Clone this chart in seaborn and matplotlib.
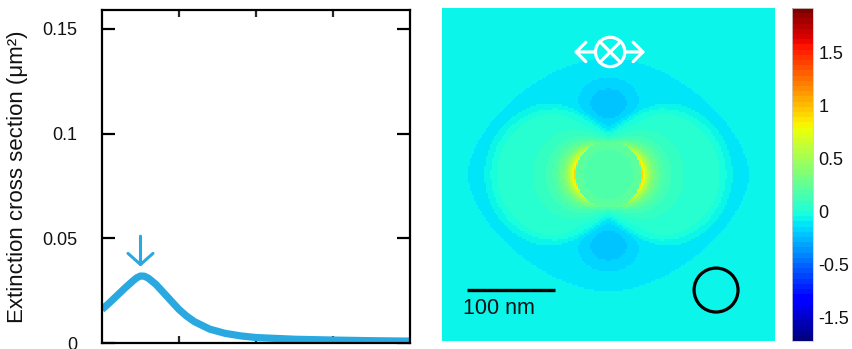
import numpy as np
import matplotlib
matplotlib.use("Agg")
import matplotlib.pyplot as plt
from matplotlib.patches import Circle
import seaborn as sns
import pandas as pd

sns.set_theme(style="white")
plt.rcParams["font.family"] = ["Liberation Sans", "DejaVu Sans"]

# ---- extinction spectrum -------------------------------------------------
wavelength_nm = [400, 410, 420, 430, 440, 445, 450, 455, 460, 470, 480, 490,
                 500, 510, 520, 540, 560, 580, 600, 650, 700, 750, 800]
extinction_um2 = [0.0160, 0.0193, 0.0228, 0.0263, 0.0296, 0.0311, 0.0320, 0.0319,
                  0.0310, 0.0280, 0.0240, 0.0200, 0.0160, 0.0128, 0.0102, 0.0066,
                  0.0046, 0.0034, 0.0026, 0.0018, 0.0014, 0.0011, 0.0009]
resonance_nm = 450
arrow_top, arrow_tip = 0.0510, 0.0365

y_ticks = [0, 0.05, 0.1, 0.15]
y_tick_labels = ["0", "0.05", "0.1", "0.15"]
x_ticks = [500, 600, 700]

# ---- near-field map parameters (nm, field units) -------------------------
half_width_nm = 190
n_cells = 166
sphere_radius = 37
interior_level = 0.17
interior_rise = 0.06
background_level = -0.05
band_depth = -0.06
band_rx, band_ry, band_power = 167, 136, 1.7
lobe_height = 0.10
lobe_offset, lobe_radius = 60, 75
rim_strength = 0.80
cap_strength = 0.22
blob_depth = -0.13
blob_center, blob_wx, blob_wy = 80, 32, 26

cbar_ticks = [1.5, 1, 0.5, 0, -0.5, -1]
cbar_tick_labels = ["1.5", "1", "0.5", "0", "-0.5", "-1.5"]
field_min, field_max = -1.22, 1.92

line_color = "#29a9e0"


def step(z, w):
    return 1.0 / (1.0 + np.exp(-z / w))


coords = np.linspace(-half_width_nm, half_width_nm, n_cells)
X, Y = np.meshgrid(coords, coords)
R = np.hypot(X, Y) + 1e-9
cos2 = (X / R) ** 2

field = np.full_like(X, background_level)
rho = ((np.abs(X) / band_rx) ** band_power + (np.abs(Y) / band_ry) ** band_power) ** (1 / band_power)
field += band_depth * step(1 - rho, 0.02)
lobe = np.maximum(
    step(1 - np.hypot((X - lobe_offset) / lobe_radius, Y / lobe_radius), 0.03),
    step(1 - np.hypot((X + lobe_offset) / lobe_radius, Y / lobe_radius), 0.03),
)
field += lobe_height * lobe
field += rim_strength * (sphere_radius / R) ** 3 * cos2 ** 0.9
field += cap_strength * (sphere_radius / R) ** 6
field += blob_depth * np.exp(-(X / blob_wx) ** 2 - ((np.abs(Y) - blob_center) / blob_wy) ** 2)
inside = R < sphere_radius
field = np.where(inside, interior_level + interior_rise * (R / sphere_radius) ** 2, field)
field_df = pd.DataFrame(field)

# ---- figure ----------------------------------------------------------------
W, H = 853, 349
fig = plt.figure(figsize=(W / 100, H / 100), dpi=100)


def px_axes(x0, y0, x1, y1):
    return fig.add_axes([x0 / W, 1 - y1 / H, (x1 - x0) / W, (y1 - y0) / H])


ax1 = px_axes(102, 10, 410, 343)
ax2 = px_axes(442, 8, 775, 341)
cax = px_axes(792, 8, 813, 341)

spec = pd.DataFrame({"wavelength": wavelength_nm, "extinction": extinction_um2})
sns.lineplot(data=spec, x="wavelength", y="extinction", ax=ax1,
             color=line_color, linewidth=5.2, solid_capstyle="butt")
ax1.annotate("", xy=(resonance_nm, arrow_tip), xytext=(resonance_nm, arrow_top),
             arrowprops=dict(arrowstyle="->,head_length=0.4,head_width=0.45",
                             color=line_color, lw=2.2, mutation_scale=20,
                             shrinkA=0, shrinkB=0))
ax1.set_xlim(400, 800)
ax1.set_ylim(0, 0.159)
ax1.set_xticks(x_ticks)
ax1.set_yticks(y_ticks)
ax1.set_yticklabels(y_tick_labels)
ax1.set_xlabel("")
ax1.set_ylabel("Extinction cross section (μm²)", fontsize=16, labelpad=10, color="#111111")
ax1.tick_params(axis="y", direction="in", length=9.4, width=1.6, left=True, right=True,
                labelsize=13, pad=18, colors="black", labelcolor="#111111")
ax1.tick_params(axis="x", direction="in", length=5, width=1.6, top=True, bottom=True,
                labelbottom=False)
for s in ax1.spines.values():
    s.set_visible(True)
    s.set_linewidth(1.6)
    s.set_color("black")

cmap = matplotlib.colormaps["jet"].resampled(64)
sns.heatmap(field_df, ax=ax2, cbar_ax=cax, cmap=cmap, vmin=field_min, vmax=field_max,
            xticklabels=False, yticklabels=False, square=False)
ax2.set_xlabel("")
ax2.set_ylabel("")
cbar = ax2.collections[0].colorbar
cbar.set_ticks(cbar_ticks)
cbar.set_ticklabels(cbar_tick_labels)
cbar.ax.tick_params(length=0, labelsize=13, pad=4, labelcolor="#111111")
cbar.outline.set_linewidth(0.6)
cbar.outline.set_edgecolor("#cccccc")

# scale bar and size marker
ax2.plot([0.075, 0.339], [0.153, 0.153], transform=ax2.transAxes, color="black",
         lw=2.4, solid_capstyle="butt")
ax2.text(0.063, 0.099, "100 nm", transform=ax2.transAxes, fontsize=15.5,
         ha="left", va="center", color="#111111")
ax2.add_patch(Circle((0.823, 0.153), 0.066, transform=ax2.transAxes, fill=False,
                     edgecolor="black", lw=2.3))

# propagation / polarisation symbol
cx, cy, cr = 0.505, 0.868, 0.044
ax2.add_patch(Circle((cx, cy), cr, transform=ax2.transAxes, fill=False,
                     edgecolor="white", lw=2.3))
d = cr * 0.707
ax2.plot([cx - d, cx + d], [cy - d, cy + d], transform=ax2.transAxes, color="white", lw=2.3)
ax2.plot([cx - d, cx + d], [cy + d, cy - d], transform=ax2.transAxes, color="white", lw=2.3)
for start, end in [((cx - cr, cy), (0.396, cy)), ((cx + cr, cy), (0.610, cy))]:
    ax2.annotate("", xy=end, xytext=start, xycoords="axes fraction",
                 textcoords="axes fraction",
                 arrowprops=dict(arrowstyle="->,head_length=0.35,head_width=0.35",
                                 color="white", lw=2.3, mutation_scale=20,
                                 shrinkA=0, shrinkB=0))

fig.savefig("out.png", dpi=100, facecolor="white")
